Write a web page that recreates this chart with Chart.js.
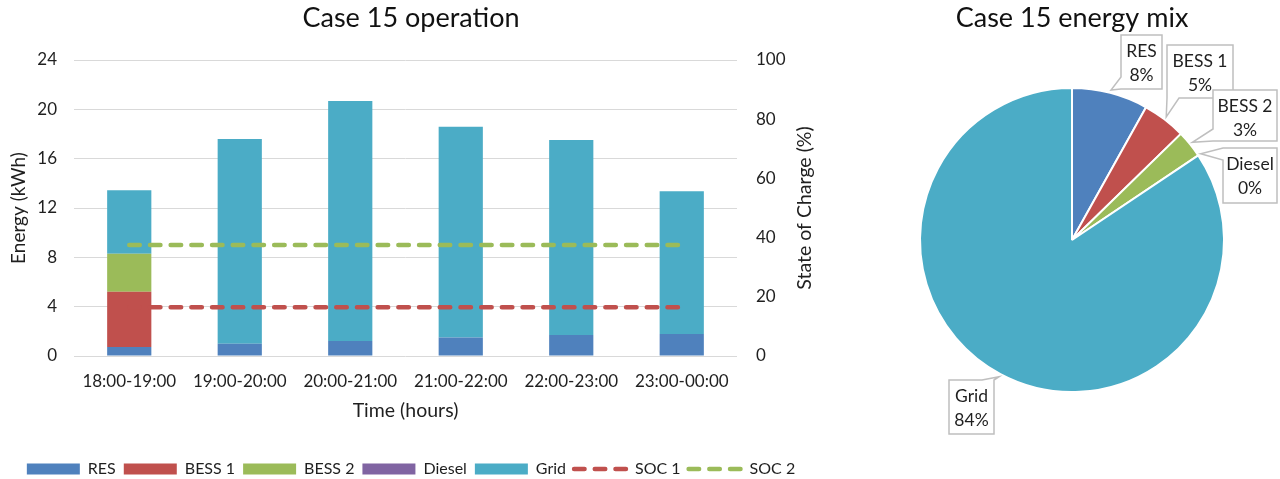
<!DOCTYPE html>
<html>
<head>
<meta charset="utf-8">
<script src="https://cdn.jsdelivr.net/npm/chart.js@4/dist/chart.umd.min.js"></script>
<style>
  html, body { margin: 0; padding: 0; background: #fff; width: 1280px; height: 479px; overflow: hidden; }
  #ops { position: absolute; left: 0; top: 0; }
  #mix { position: absolute; left: 862px; top: 0; }
</style>
</head>
<body>
<canvas id="ops" width="822" height="487"></canvas>
<canvas id="mix" width="420" height="479"></canvas>
<script>
// Hourly operation, Case 15 (kWh per hour)
const hours  = ['18:00-19:00', '19:00-20:00', '20:00-21:00', '21:00-22:00', '22:00-23:00', '23:00-00:00'];
const res    = [0.73, 1.0, 1.22, 1.49, 1.7, 1.78];
const bess1  = [4.48, 0, 0, 0, 0, 0];
const bess2  = [3.09, 0, 0, 0, 0, 0];
const diesel = [0, 0, 0, 0, 0, 0];
const grid   = [5.13, 16.6, 19.46, 17.1, 15.81, 11.57];
// Battery state of charge (%)
const soc1   = [16.5, 16.5, 16.5, 16.5, 16.5, 16.5];
const soc2   = [37.5, 37.5, 37.5, 37.5, 37.5, 37.5];
// Energy mix shares (%)
const mixLabels = ['RES', 'BESS 1', 'BESS 2', 'Diesel', 'Grid'];
const mixShare  = [8.1, 4.6, 2.9, 0, 84.4];
// Axis ticks
const energyTicks = [0, 4, 8, 12, 16, 20, 24];
const socTicks    = [0, 20, 40, 60, 80, 100];

const C = { res: '#4F81BD', bess1: '#C0504D', bess2: '#9BBB59', diesel: '#8064A2', grid: '#4BACC6' };
const TEXT = '#1f1f1f';
const FONT = 'Lato, "Open Sans", sans-serif';
const SOC_DASH = [10.5, 10.2];
const SOC_WIDTH = 4.5;

Chart.defaults.font.family = FONT;
Chart.defaults.color = TEXT;

function barSet(label, data, color) {
  return { type: 'bar', label, data, backgroundColor: color, borderWidth: 0, stack: 'energy',
           yAxisID: 'y', order: 1, categoryPercentage: 1, barPercentage: 0.4 };
}
function socSet(label, data, color) {
  return { type: 'line', label, data, borderColor: color, backgroundColor: color, borderWidth: SOC_WIDTH,
           borderDash: SOC_DASH, borderCapStyle: 'round', pointRadius: 0, fill: false,
           yAxisID: 'y1', order: 0 };
}

// Right-hand axis title, reading bottom to top like the left one
const socTitle = {
  id: 'socTitle',
  afterDraw(chart) {
    const s = chart.scales.y1, a = chart.chartArea, ctx = chart.ctx;
    ctx.save();
    ctx.translate(s.right - 17, (a.top + a.bottom) / 2);
    ctx.rotate(-Math.PI / 2);
    ctx.font = '19.5px ' + FONT;
    ctx.fillStyle = TEXT;
    ctx.textAlign = 'center';
    ctx.textBaseline = 'middle';
    ctx.fillText('State of Charge (%)', 0, 0);
    ctx.restore();
  }
};

new Chart(document.getElementById('ops'), {
  data: {
    labels: hours,
    datasets: [
      barSet('RES', res, C.res),
      barSet('BESS 1', bess1, C.bess1),
      barSet('BESS 2', bess2, C.bess2),
      barSet('Diesel', diesel, C.diesel),
      barSet('Grid', grid, C.grid),
      socSet('SOC 1', soc1, C.bess1),
      socSet('SOC 2', soc2, C.bess2)
    ]
  },
  options: {
    responsive: false,
    animation: false,
    layout: { padding: 0 },
    plugins: {
      tooltip: { enabled: false },
      title: { display: true, text: 'Case 15 operation', color: '#111', font: { size: 27, weight: 'normal' },
               padding: { top: 2, bottom: 25.6 } },
      legend: {
        position: 'bottom',
        labels: {
          usePointStyle: true, pointStyleWidth: 53, boxHeight: 11, padding: 8,
          color: TEXT, font: { size: 16 },
          sort: (a, b) => a.datasetIndex - b.datasetIndex,
          generateLabels(chart) {
            const items = Chart.defaults.plugins.legend.labels.generateLabels(chart);
            return items.map(it => {
              const ds = chart.data.datasets[it.datasetIndex];
              if (ds.type === 'line') {
                it.pointStyle = 'line';
                it.strokeStyle = ds.borderColor;
                it.lineWidth = SOC_WIDTH;
                it.lineDash = SOC_DASH;
                it.lineCap = 'round';
              } else {
                it.pointStyle = 'rect';
                it.fillStyle = ds.backgroundColor;
                it.lineWidth = 0;
              }
              return it;
            });
          }
        }
      }
    },
    scales: {
      x: {
        stacked: true,
        grid: { display: false, drawTicks: false },
        border: { display: false },
        ticks: { color: TEXT, font: { size: 17 }, padding: 15 },
        title: { display: true, text: 'Time (hours)', color: TEXT, font: { size: 19.5 }, padding: { top: 0, bottom: 30.8 } },
        afterFit(s) { s.height = 97; }
      },
      y: {
        stacked: true, min: 0, max: 24,
        afterBuildTicks(s) { s.ticks = energyTicks.map(v => ({ value: v })); },
        grid: { color: '#D9D9D9', lineWidth: 1, drawTicks: false },
        border: { display: false },
        ticks: { color: TEXT, font: { size: 17 }, padding: 17 },
        title: { display: true, text: 'Energy (kWh)', color: TEXT, font: { size: 19 }, padding: { top: 7, bottom: 0 } },
        afterFit(s) { s.width = 74; }
      },
      y1: {
        position: 'right', min: 0, max: 100,
        afterBuildTicks(s) { s.ticks = socTicks.map(v => ({ value: v })); },
        grid: { display: false, drawTicks: false },
        border: { display: false },
        ticks: { color: TEXT, font: { size: 17 }, padding: 19 },
        afterFit(s) { s.width = 85; }
      }
    }
  },
  plugins: [socTitle]
});

// Callout boxes for the pie, in canvas pixels: box rectangle and the edge its pointer leaves from
const calloutBoxes = [
  { x: 259, y: 35,  w: 41, h: 54, side: 'left'   },
  { x: 305, y: 45,  w: 66, h: 53, side: 'bottom' },
  { x: 351, y: 90,  w: 64, h: 51, side: 'left'   },
  { x: 361, y: 148, w: 54, h: 55, side: 'left'   },
  { x: 87,  y: 380, w: 45, h: 54, side: 'top'    }
];

function calloutPath(ctx, b, tx, ty) {
  const half = 6;
  const clamp = (v, lo, hi) => Math.max(lo, Math.min(hi, v));
  const { x, y, w, h, side } = b;
  ctx.beginPath();
  ctx.moveTo(x, y);
  if (side === 'top') {
    const c = clamp(tx, x + half, x + w - half);
    ctx.lineTo(c - half, y); ctx.lineTo(tx, ty); ctx.lineTo(c + half, y);
  }
  ctx.lineTo(x + w, y);
  ctx.lineTo(x + w, y + h);
  if (side === 'bottom') {
    const c = clamp(tx, x + half, x + w - half);
    ctx.lineTo(c + half, y + h); ctx.lineTo(tx, ty); ctx.lineTo(c - half, y + h);
  }
  ctx.lineTo(x, y + h);
  if (side === 'left') {
    const c = clamp(ty, y + half, y + h - half);
    ctx.lineTo(x, c + half); ctx.lineTo(tx, ty); ctx.lineTo(x, c - half);
  }
  ctx.closePath();
}

const pieCallouts = {
  id: 'pieCallouts',
  afterDatasetsDraw(chart) {
    const ctx = chart.ctx;
    const meta = chart.getDatasetMeta(0);
    const data = chart.data.datasets[0].data;
    const total = data.reduce((s, v) => s + v, 0);
    meta.data.forEach((arc, i) => {
      const p = arc.getProps(['x', 'y', 'startAngle', 'endAngle', 'outerRadius'], true);
      const mid = (p.startAngle + p.endAngle) / 2;
      const r = p.outerRadius + 3;
      const tx = p.x + Math.cos(mid) * r, ty = p.y + Math.sin(mid) * r;
      const b = calloutBoxes[i];
      ctx.save();
      calloutPath(ctx, b, tx, ty);
      ctx.fillStyle = '#fff';
      ctx.fill();
      ctx.lineWidth = 1.5;
      ctx.strokeStyle = '#BFBFBF';
      ctx.stroke();
      ctx.fillStyle = TEXT;
      ctx.font = '17.5px ' + FONT;
      ctx.textAlign = 'center';
      ctx.textBaseline = 'middle';
      const cx = b.x + b.w / 2;
      ctx.fillText(chart.data.labels[i], cx, b.y + 16.5);
      ctx.fillText(Math.round(data[i] / total * 100) + '%', cx, b.y + 40);
      ctx.restore();
    });
  }
};

new Chart(document.getElementById('mix'), {
  type: 'pie',
  data: {
    labels: mixLabels,
    datasets: [{
      data: mixShare,
      backgroundColor: [C.res, C.bess1, C.bess2, C.diesel, C.grid],
      borderColor: '#fff',
      borderWidth: 2
    }]
  },
  options: {
    responsive: false,
    animation: false,
    layout: { padding: { left: 57, right: 57, top: 0, bottom: 86 } },
    plugins: {
      legend: { display: false },
      tooltip: { enabled: false },
      title: { display: true, text: 'Case 15 energy mix', color: '#111', font: { size: 27, weight: 'normal' },
               padding: { top: 2, bottom: 52.6 } }
    }
  },
  plugins: [pieCallouts]
});
</script>
</body>
</html>
